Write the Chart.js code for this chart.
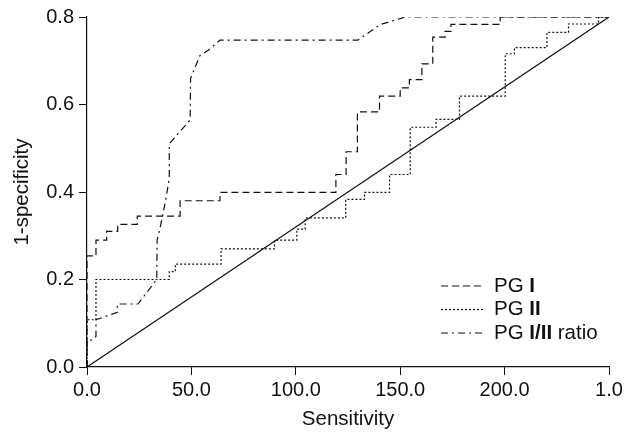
<!DOCTYPE html>
<html>
<head>
<meta charset="utf-8">
<script src="https://cdn.jsdelivr.net/npm/chart.js@4"></script>
<style>
  html, body { margin: 0; padding: 0; background: #fff; }
  #wrap { width: 638px; height: 437px; }
</style>
</head>
<body>
<div id="wrap"><canvas id="roc" width="638" height="437"></canvas></div>
<script>
// tick labels as printed on the original figure
const xTickLabels = ['0.0', '50.0', '100.0', '150.0', '200.0', '1.0'];

// PG I (step points, curve steps up at each x)
const pg1X = [0, 0, 4.3, 9.4, 14.7, 24.1, 44.6, 63.7, 119.2, 124.1, 129.5, 140.1, 150.0, 154.4, 160.4, 165.6, 171.5, 174.3, 197.9, 250];
const pg1Y = [0, 0.254, 0.29, 0.31, 0.326, 0.345, 0.38, 0.399, 0.44, 0.492, 0.583, 0.619, 0.638, 0.657, 0.693, 0.754, 0.767, 0.783, 0.8, 0.8];

// PG II
const pg2X = [0, 0, 4.3, 39.4, 42.3, 64.2, 89.8, 100.5, 104.5, 123.9, 132.9, 144.9, 154.8, 167.2, 178.4, 200.3, 204.7, 220.3, 230.6, 245, 250];
const pg2Y = [0, 0.108, 0.2, 0.218, 0.235, 0.27, 0.29, 0.315, 0.341, 0.383, 0.399, 0.44, 0.548, 0.566, 0.619, 0.716, 0.73, 0.765, 0.784, 0.8, 0.8];

// PG I/II ratio (has sloped parts, drawn point to point)
const ratioX = [0, 0, 4.3, 4.3, 14.5, 14.5, 24.4, 33.4, 33.6, 35.0, 37.4, 39.4, 39.4, 49.4, 49.6, 54.1, 58.1, 63.7, 129.7, 140.5, 150.5, 152, 250];
const ratioY = [0, 0.055, 0.07, 0.108, 0.125, 0.144, 0.144, 0.2, 0.29, 0.318, 0.375, 0.43, 0.51, 0.565, 0.66, 0.712, 0.724, 0.747, 0.747, 0.783, 0.797, 0.8, 0.8];

// reference diagonal
const diagX = [0, 250];
const diagY = [0, 0.8];

const FONT = '"Liberation Sans", Arial, Helvetica, sans-serif';
const INK = '#111';

function pts(xs, ys) {
    return xs.map((x, i) => ({ x: x, y: ys[i] }));
}

// 'before' = go across first, then up (ROC staircase)
const series = [
    { label: 'PG I', x: pg1X, y: pg1Y, dash: [7, 4], stepped: 'before' },
    { label: 'PG II', x: pg2X, y: pg2Y, dash: [2, 2], stepped: 'before' },
    { label: 'PG I/II ratio', x: ratioX, y: ratioY, dash: [7, 4, 2, 4], stepped: false }
];

// legend text pieces: [text, bold?]
const legendParts = [
    [['PG ', false], ['I', true]],
    [['PG ', false], ['II', true]],
    [['PG ', false], ['I/II', true], [' ratio', false]]
];

const datasets = series.map(s => ({
    label: s.label,
    data: pts(s.x, s.y),
    showLine: true,
    stepped: s.stepped,
    borderColor: INK,
    borderWidth: 1.2,
    borderDash: s.dash,
    pointRadius: 0,
    fill: false
}));
datasets.push({
    label: 'diagonal',
    data: pts(diagX, diagY),
    showLine: true,
    borderColor: INK,
    borderWidth: 1.2,
    pointRadius: 0,
    fill: false
});

// small legend drawn by hand so the roman numerals can be bold
const rocLegend = {
    id: 'rocLegend',
    afterDatasetsDraw(chart) {
        const ctx = chart.ctx;
        const x0 = 441, x1 = 483, tx = 494;
        const rows = [286, 309.5, 333];
        ctx.save();
        ctx.textBaseline = 'middle';
        ctx.fillStyle = INK;
        series.forEach((s, i) => {
            const y = rows[i];
            ctx.beginPath();
            ctx.setLineDash(s.dash);
            ctx.lineWidth = 1.2;
            ctx.strokeStyle = INK;
            ctx.moveTo(x0, y);
            ctx.lineTo(x1, y);
            ctx.stroke();
            ctx.setLineDash([]);
            let x = tx;
            legendParts[i].forEach(p => {
                ctx.font = (p[1] ? 'bold ' : '') + '20.5px ' + FONT;
                ctx.fillText(p[0], x, y);
                x += ctx.measureText(p[0]).width;
            });
        });
        ctx.restore();
    }
};

new Chart(document.getElementById('roc'), {
    type: 'scatter',
    data: { datasets: datasets },
    plugins: [rocLegend],
    options: {
        responsive: false,
        animation: false,
        layout: { padding: { top: 15, right: 29, left: 0, bottom: 0 } },
        plugins: {
            legend: { display: false },
            tooltip: { enabled: false }
        },
        scales: {
            x: {
                type: 'linear',
                min: 0,
                max: 250,
                afterFit: s => { s.height = 70; },
                ticks: {
                    stepSize: 50,
                    maxRotation: 0,
                    padding: 3,
                    color: INK,
                    font: { family: FONT, size: 20 },
                    callback: v => xTickLabels[Math.round(v / 50)]
                },
                grid: { drawOnChartArea: false, drawTicks: true, tickLength: 8, color: INK },
                border: { display: true, color: INK, width: 1.2 },
                title: {
                    display: true,
                    text: 'Sensitivity',
                    color: INK,
                    font: { family: FONT, size: 20.5 },
                    padding: { top: 0, bottom: 5 }
                }
            },
            y: {
                min: 0,
                max: 0.8,
                afterFit: s => { s.width = 87; },
                ticks: {
                    stepSize: 0.2,
                    padding: 5,
                    color: INK,
                    font: { family: FONT, size: 20 },
                    callback: v => Number(v).toFixed(1)
                },
                grid: { drawOnChartArea: false, drawTicks: true, tickLength: 8, color: INK },
                border: { display: true, color: INK, width: 1.2 },
                title: {
                    display: true,
                    text: '1-specificity',
                    color: INK,
                    font: { family: FONT, size: 20.5 },
                    padding: { top: 10, bottom: 0 }
                }
            }
        }
    }
});
</script>
</body>
</html>
